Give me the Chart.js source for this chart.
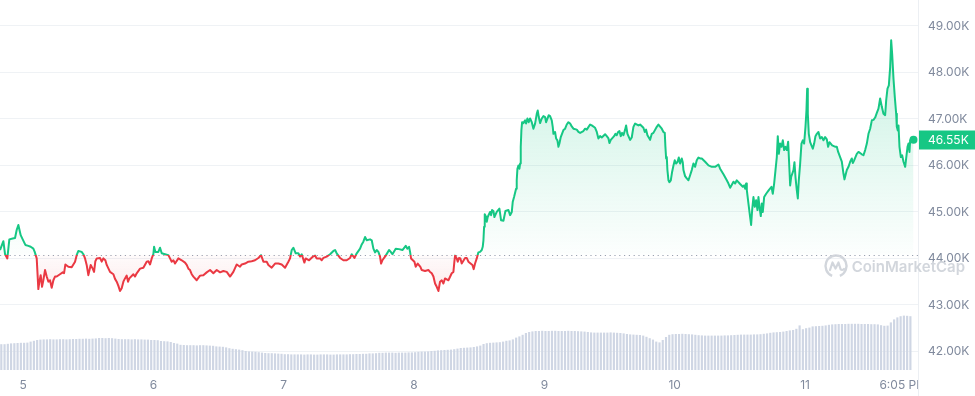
<!DOCTYPE html>
<html>
<head>
<meta charset="utf-8">
<script src="https://cdn.jsdelivr.net/npm/chart.js@4.4.1/dist/chart.umd.min.js"></script>
<style>
html,body{margin:0;padding:0;background:#fff;}
#wrap{width:975px;height:396px;position:relative;}
</style>
</head>
<body>
<div id="wrap"><canvas id="c"></canvas></div>
<script>
// ---- data (time in hours from Feb 5 00:00, price in thousands USD) ----
const dayTicks = [0, 24, 48, 72, 96, 120, 144, 162.08];
const dayLabels = ['5', '6', '7', '8', '9', '10', '11', '6:05 PM'];
const priceTicks = [42, 43, 44, 45, 46, 47, 48, 49];
const priceAxisMin = 41.6;
const priceAxisMax = 49.558;
const timeAxisMin = -4.24;
const timeAxisMax = 164.8;
const openPrice = 44.08;

const priceTimes = [
-4.24,-3.62,-3.31,-2.89,-2.52,-1.90,-1.47,-1.17,-0.86,-0.43,
-0.06,0.43,0.98,1.41,1.90,2.15,2.52,2.82,3.01,3.25,
3.50,3.74,4.05,4.36,4.67,4.97,5.28,5.59,5.89,6.20,
6.81,7.31,7.55,7.80,8.35,8.96,9.58,9.88,10.19,10.80,
11.11,11.42,11.72,12.03,12.46,12.83,13.08,13.32,13.57,14.18,
14.49,14.79,15.16,15.41,16.02,16.64,16.94,17.25,17.56,17.86,
18.17,18.48,18.78,19.09,19.34,19.58,20.32,20.63,20.93,21.55,
22.16,22.77,23.08,23.39,23.70,24.00,24.13,24.37,24.92,25.23,
25.54,26.15,26.76,27.07,27.38,27.69,27.99,28.61,29.22,29.83,
30.14,30.45,30.75,31.06,31.37,31.98,32.29,32.60,33.21,33.82,
34.44,35.05,35.67,36.28,36.89,37.51,38.12,38.73,39.35,39.96,
40.27,40.88,41.50,42.11,42.72,43.34,43.83,44.26,44.87,45.18,
45.79,46.41,47.02,47.63,48.25,48.86,49.17,49.48,49.78,50.21,
50.70,51.01,51.32,51.81,52.05,52.67,53.40,53.77,54.08,54.69,
55.00,55.31,55.92,56.54,57.15,57.46,57.76,58.38,58.99,59.60,
60.22,60.53,61.02,61.45,62.06,62.37,62.67,62.98,63.29,63.90,
64.21,64.52,64.82,65.13,65.44,65.74,65.93,66.17,66.79,67.40,
67.71,68.02,68.63,69.24,69.86,70.47,70.78,71.08,71.27,71.45,
72.07,72.31,72.68,73.17,73.42,74.03,74.64,74.95,75.26,75.57,
75.87,76.18,76.49,76.79,77.10,77.41,77.71,78.33,78.94,79.25,
79.43,79.56,79.86,80.05,80.29,80.54,80.78,81.40,81.70,82.01,
82.75,82.99,83.24,83.55,83.85,84.16,84.47,84.65,84.78,84.90,
85.02,85.27,85.39,85.57,86.00,86.19,86.37,86.62,86.80,87.23,
87.72,88.03,88.46,88.83,89.38,89.69,90.00,90.18,90.42,90.79,
90.91,91.04,91.22,91.41,91.53,91.65,91.77,91.90,92.14,92.45,
92.63,92.88,93.12,93.37,93.68,93.98,94.29,94.60,94.78,94.97,
95.21,95.52,95.83,96.13,96.32,96.81,97.05,97.36,97.54,97.67,
97.97,98.16,98.40,98.59,98.77,99.02,99.51,99.82,100.12,100.43,
100.74,101.04,101.35,101.96,102.27,102.58,103.19,103.50,103.81,104.42,
104.73,105.34,105.65,105.95,106.26,106.57,107.18,107.49,107.80,107.98,
108.23,108.84,109.09,109.33,109.58,109.82,110.07,110.31,110.56,110.87,
111.05,111.30,111.79,112.09,112.40,112.71,113.32,113.63,114.24,114.49,
114.73,114.98,115.47,115.78,116.08,116.70,117.00,117.62,117.92,118.17,
118.29,118.42,118.54,118.66,118.85,119.03,119.28,119.52,119.77,120.01,
120.26,120.50,120.75,120.99,121.30,121.48,121.61,121.91,122.22,122.53,
122.84,123.14,123.45,123.76,124.06,124.37,124.68,124.99,125.60,126.22,
126.83,127.44,128.06,128.36,128.98,129.59,129.90,130.21,130.82,131.13,
131.43,132.05,132.54,132.78,132.97,133.15,133.28,133.58,133.89,134.07,
134.26,134.50,134.75,134.99,135.24,135.42,135.61,135.85,136.04,136.22,
136.47,136.84,137.33,137.82,138.06,138.31,138.56,138.80,138.98,139.17,
139.41,139.66,139.91,140.15,140.40,140.64,140.89,141.13,141.26,141.44,
141.87,142.05,142.24,142.48,142.67,142.85,143.10,143.34,143.59,143.83,
144.08,144.26,144.39,144.51,144.69,144.94,145.18,145.43,145.68,145.92,
146.17,146.47,146.78,147.09,147.39,147.70,148.01,148.25,148.50,148.99,
149.60,149.85,150.10,150.46,150.77,151.08,151.26,151.45,151.69,152.00,
152.31,152.61,152.80,153.04,153.53,153.84,154.45,154.76,155.07,155.38,
155.68,155.99,156.30,156.60,156.91,157.22,157.52,157.83,158.14,158.44,
158.75,158.94,159.18,159.43,159.67,159.86,160.04,160.29,160.53,160.78,
160.90,161.08,161.21,161.39,161.64,161.88,162.13,162.44,162.62,162.87,
163.05,163.23,163.36,163.66,163.97
];

const prices = [
44.18,44.37,44.09,44.00,44.41,44.43,44.44,44.61,44.72,44.50,
44.41,44.29,44.27,44.25,44.21,44.14,44.00,43.34,43.50,43.64,
43.39,43.53,43.75,43.61,43.50,43.53,43.37,43.53,43.61,43.61,
43.66,43.70,43.68,43.87,43.82,43.81,43.93,44.07,44.16,44.14,
44.09,44.00,43.86,43.64,43.86,43.78,43.71,43.94,44.00,44.01,
43.93,44.00,43.96,43.86,43.71,43.66,43.56,43.50,43.41,43.30,
43.36,43.50,43.57,43.63,43.50,43.57,43.66,43.61,43.68,43.78,
43.80,43.93,43.94,43.87,44.00,44.09,44.25,44.14,44.14,44.23,
44.11,44.09,44.07,44.00,43.93,43.96,43.89,44.00,43.96,43.91,
43.86,43.78,43.75,43.66,43.61,43.53,43.58,43.63,43.64,43.70,
43.75,43.68,43.75,43.70,43.73,43.71,43.61,43.71,43.87,43.82,
43.87,43.89,43.93,43.94,43.96,44.01,44.07,43.93,43.93,43.86,
43.80,43.89,43.89,43.87,43.80,43.93,44.00,44.18,44.23,44.11,
44.11,44.04,44.09,43.91,44.00,43.96,44.04,44.06,44.00,44.00,
43.96,44.01,44.04,44.09,44.16,44.18,44.11,44.01,43.96,43.96,
44.01,44.09,44.01,44.11,44.21,44.30,44.36,44.46,44.39,44.41,
44.39,44.21,44.13,44.18,44.14,44.04,43.89,43.96,44.06,44.18,
44.14,44.09,44.21,44.20,44.18,44.27,44.21,44.25,44.14,44.00,
43.93,43.82,43.89,43.82,43.75,43.73,43.75,43.71,43.68,43.61,
43.46,43.39,43.30,43.50,43.53,43.46,43.57,43.53,43.68,43.71,
43.93,44.06,44.00,43.93,44.01,44.00,43.89,44.01,44.01,43.93,
43.86,43.77,43.89,44.00,44.13,44.14,44.18,44.25,44.39,44.68,
44.95,44.89,44.79,44.89,45.00,44.93,45.04,45.02,44.89,45.00,
45.07,44.82,44.81,45.02,45.04,44.93,45.00,45.22,45.32,45.50,
45.68,45.93,46.00,45.93,46.04,46.40,46.76,46.93,46.91,46.97,
46.90,47.01,46.93,47.01,46.93,46.79,46.90,47.11,47.18,47.04,
46.91,47.01,47.06,47.04,46.93,47.08,47.06,46.97,46.83,46.68,
46.72,46.58,46.54,46.40,46.47,46.61,46.76,46.79,46.88,46.93,
46.90,46.84,46.79,46.77,46.72,46.70,46.74,46.79,46.77,46.88,
46.86,46.81,46.72,46.58,46.63,46.60,46.67,46.63,46.58,46.48,
46.55,46.63,46.68,46.65,46.72,46.74,46.63,46.70,46.65,46.77,
46.86,46.68,46.55,46.60,46.83,46.90,46.86,46.88,46.81,46.72,
46.77,46.65,46.55,46.68,46.70,46.83,46.88,46.79,46.72,46.70,
46.40,46.15,46.18,45.90,45.68,45.64,45.68,45.86,46.00,46.11,
46.04,46.07,46.17,46.04,46.15,46.07,45.90,45.77,45.72,45.68,
45.79,45.90,46.04,45.97,46.11,46.17,46.15,46.15,46.08,46.00,
45.97,45.97,46.02,45.93,45.81,45.68,45.61,45.52,45.65,45.61,
45.68,45.60,45.54,45.57,45.50,45.61,45.47,45.18,44.89,44.72,
45.04,45.32,45.11,45.25,45.04,45.32,45.11,44.91,45.18,45.00,
45.32,45.39,45.47,45.54,45.39,45.61,45.90,46.18,46.63,46.25,
46.47,46.40,46.54,46.33,46.40,46.33,46.51,45.90,45.57,45.75,
45.90,46.07,45.75,45.47,45.29,45.68,46.04,46.47,46.54,46.47,
46.83,47.18,47.65,47.11,46.68,46.50,46.43,46.36,46.47,46.63,
46.68,46.72,46.58,46.61,46.54,46.61,46.56,46.40,46.50,46.43,
46.40,46.40,46.29,46.18,46.08,45.82,45.70,45.79,45.90,45.97,
46.08,46.15,46.05,46.11,46.25,46.29,46.24,46.22,46.33,46.47,
46.68,46.79,46.97,46.98,47.03,47.13,47.22,47.44,47.26,47.11,
47.08,47.40,47.65,47.72,48.11,48.69,48.40,47.86,47.47,47.11,
46.83,46.75,46.86,46.40,46.18,46.22,46.08,45.97,46.15,46.40,
46.47,46.29,46.54,46.58,46.55
];

// 24h volume bars (billions USD), sampled every volumeStep hours from volumeStart
const volumeStart = -4.0;
const volumeStep = 0.6;
const volumeAxisMax = 185;
const volumes = [
12.9,12.9,13.1,13.3,13.4,13.5,13.6,13.6,13.7,14.2,
14.6,15.0,15.2,15.3,15.3,15.4,15.3,15.3,15.4,15.4,
15.3,15.4,15.5,15.5,15.6,15.6,15.7,15.6,15.7,15.8,
16.0,16.0,15.9,16.0,15.9,15.7,15.5,15.4,15.4,15.4,
15.3,15.4,15.3,15.3,15.2,15.2,15.0,15.0,14.9,14.5,
14.4,14.3,14.0,13.5,13.2,12.6,12.5,12.4,12.4,12.4,
12.3,12.4,12.4,12.3,12.2,12.1,11.8,11.7,11.6,11.3,
10.9,10.6,10.4,10.2,9.9,9.5,9.3,9.2,9.1,8.9,
8.7,8.5,8.4,8.4,8.3,8.2,8.1,7.9,7.9,7.8,
7.8,7.8,7.8,7.7,7.8,7.8,7.7,7.7,7.8,7.8,
7.8,7.7,7.7,7.8,7.8,7.8,7.8,7.9,7.9,8.0,
8.0,8.1,8.1,8.3,8.3,8.4,8.6,8.6,8.7,8.7,
8.7,8.6,8.7,8.7,8.7,8.8,8.8,8.9,9.1,9.2,
9.2,9.3,9.5,9.6,9.8,9.9,10.0,10.1,10.2,10.4,
10.7,11.0,11.1,11.2,11.3,11.5,11.8,12.2,13.0,13.4,
13.6,13.7,13.8,13.9,14.2,14.6,14.8,15.3,16.2,16.8,
17.6,18.5,19.0,19.3,19.5,19.5,19.6,19.5,19.5,19.6,
19.6,19.5,19.5,19.5,19.6,19.5,19.5,19.4,19.3,19.2,
19.0,18.8,18.7,18.7,18.7,18.7,18.7,18.8,18.7,18.6,
18.5,18.3,18.0,17.8,17.7,17.6,17.5,17.2,16.6,15.9,
15.2,14.2,13.8,15.0,16.5,17.6,17.9,18.0,18.0,18.1,
18.0,17.9,17.8,17.6,17.4,17.3,17.2,17.2,17.2,17.2,
17.2,17.2,17.3,17.3,17.4,17.5,17.6,17.7,17.7,17.7,
17.7,17.8,17.8,17.9,18.1,18.3,18.6,18.8,18.9,19.0,
19.2,19.5,19.8,20.0,20.6,22.3,20.4,20.9,21.2,21.8,
21.9,22.0,22.1,22.3,22.6,22.8,22.9,23.0,23.0,23.0,
23.1,23.1,23.1,23.1,23.0,23.0,23.0,22.9,22.9,22.8,
22.4,22.1,22.2,23.8,25.3,26.3,26.9,27.2,27.1,26.9
];

// ---- styles ----
const GREEN = '#16c784';
const RED = '#ea3943';
const TEXT = '#808a9d';
const GRID = '#eff2f5';
const FONT = 'Inter, "Noto Sans", sans-serif';

const n = Math.min(priceTimes.length, prices.length);
const pricePoints = [];
for (let i = 0; i < n; i++) pricePoints.push({x: priceTimes[i], y: prices[i]});
const volumePoints = volumes.map((v, i) => ({x: volumeStart + i * volumeStep, y: v}));
const lastPrice = prices[n - 1];
const maxPrice = Math.max(...prices.slice(0, n));
const minPrice = Math.min(...prices.slice(0, n));

function frac(chart, v) {
  const a = chart.chartArea;
  const p = (chart.scales.y.getPixelForValue(v) - a.top) / (a.bottom - a.top);
  return Math.min(1, Math.max(0, p));
}

function strokeGradient(c) {
  const chart = c.chart;
  const a = chart.chartArea;
  if (!a) return GREEN;
  const g = chart.ctx.createLinearGradient(0, a.top, 0, a.bottom);
  const t = frac(chart, openPrice);
  g.addColorStop(0, GREEN); g.addColorStop(t, GREEN);
  g.addColorStop(t, RED); g.addColorStop(1, RED);
  return g;
}

function fillGradient(c) {
  const chart = c.chart;
  const a = chart.chartArea;
  if (!a) return 'rgba(22,199,132,0.1)';
  const g = chart.ctx.createLinearGradient(0, a.top, 0, a.bottom);
  const tTop = frac(chart, maxPrice);
  const tBase = frac(chart, openPrice);
  const tLow = frac(chart, minPrice);
  g.addColorStop(0, 'rgba(22,199,132,0.24)');
  g.addColorStop(tTop, 'rgba(22,199,132,0.24)');
  g.addColorStop(tBase, 'rgba(22,199,132,0.01)');
  g.addColorStop(Math.min(1, tBase + 0.0001), 'rgba(234,57,67,0.02)');
  g.addColorStop(Math.max(tLow, tBase + 0.0002), 'rgba(234,57,67,0.10)');
  g.addColorStop(1, 'rgba(234,57,67,0.10)');
  return g;
}

const baselinePlugin = {
  id: 'baseline',
  beforeDatasetsDraw(chart) {
    const {ctx, chartArea: a, scales} = chart;
    const y = Math.round(scales.y.getPixelForValue(openPrice)) + 0.5;
    ctx.save();
    ctx.strokeStyle = '#9aa2b0';
    ctx.lineWidth = 1;
    ctx.setLineDash([1.2, 3.6]);
    ctx.beginPath();
    ctx.moveTo(a.left, y);
    ctx.lineTo(a.right, y);
    ctx.stroke();
    ctx.restore();
  }
};

const overlayPlugin = {
  id: 'overlay',
  afterDraw(chart) {
    const {ctx, chartArea: a, scales, width, height} = chart;
    ctx.save();
    // clip x labels at the price-axis edge
    ctx.fillStyle = '#ffffff';
    ctx.fillRect(a.right + 1, a.bottom + 1, width - a.right, height - a.bottom);
    // separator
    ctx.strokeStyle = '#eceff3';
    ctx.lineWidth = 1;
    ctx.beginPath();
    ctx.moveTo(Math.round(a.right) + 0.5, 0);
    ctx.lineTo(Math.round(a.right) + 0.5, height);
    ctx.stroke();

    // watermark
    const wy = a.bottom - 104;
    ctx.globalAlpha = 0.9;
    ctx.strokeStyle = '#cdd1d8';
    ctx.fillStyle = '#cdd1d8';
    ctx.lineWidth = 2.4;
    const cx = width - 139, r = 10.5;
    ctx.beginPath();
    ctx.arc(cx, wy, r, Math.PI * 0.62, Math.PI * 0.38 + Math.PI * 2);
    ctx.stroke();
    ctx.lineWidth = 2.2;
    ctx.lineJoin = 'round';
    ctx.lineCap = 'round';
    ctx.beginPath();
    ctx.moveTo(cx - 6, wy + 4);
    ctx.lineTo(cx - 3.5, wy - 3.5);
    ctx.lineTo(cx - 0.5, wy + 2.5);
    ctx.lineTo(cx + 2.5, wy - 3.5);
    ctx.lineTo(cx + 4.5, wy + 3);
    ctx.quadraticCurveTo(cx + 6, wy + 5, cx + 8, wy + 3);
    ctx.stroke();
    ctx.font = '600 15px ' + FONT;
    ctx.textAlign = 'right';
    ctx.textBaseline = 'middle';
    ctx.fillText('CoinMarketCap', width - 10, wy + 1);
    ctx.globalAlpha = 1;

    // last price tag
    const py = scales.y.getPixelForValue(lastPrice);
    ctx.fillStyle = GREEN;
    ctx.fillRect(a.right + 1, Math.round(py) - 9.5, width - a.right - 1, 19);
    ctx.fillStyle = '#ffffff';
    ctx.font = '12px ' + FONT;
    ctx.textAlign = 'left';
    ctx.textBaseline = 'middle';
    ctx.fillText(lastPrice.toFixed(2) + 'K', a.right + 10, py + 0.5);
    ctx.restore();
  }
};

new Chart(document.getElementById('c'), {
  type: 'line',
  data: {
    datasets: [
      {
        type: 'line',
        data: pricePoints,
        yAxisID: 'y',
        borderColor: strokeGradient,
        backgroundColor: fillGradient,
        borderWidth: 2,
        fill: {target: {value: openPrice}},
        tension: 0,
        borderJoinStyle: 'round',
        pointRadius: (c) => c.dataIndex === n - 1 ? 4 : 0,
        pointBackgroundColor: GREEN,
        pointBorderWidth: 0,
        order: 0
      },
      {
        type: 'bar',
        data: volumePoints,
        yAxisID: 'yv',
        backgroundColor: '#cfd6e4',
        barPercentage: 0.66,
        categoryPercentage: 1,
        order: 1
      }
    ]
  },
  options: {
    responsive: true,
    maintainAspectRatio: false,
    animation: false,
    devicePixelRatio: 1,
    layout: {autoPadding: false, padding: {left: 0, right: 0, top: 0, bottom: 0}},
    plugins: {legend: {display: false}, tooltip: {enabled: false}},
    scales: {
      x: {
        type: 'linear',
        bounds: 'data',
        min: timeAxisMin,
        max: timeAxisMax,
        offset: false,
        grid: {display: false},
        border: {display: false},
        afterBuildTicks: (s) => {
          s.ticks = dayTicks.map(v => ({value: v}));
        },
        afterFit: (s) => { s.height = 26; s.paddingLeft = 0; s.paddingRight = 0; },
        ticks: {
          autoSkip: false,
          maxRotation: 0,
          padding: 0,
          color: TEXT,
          font: {family: FONT, size: 12},
          callback: (v, i) => dayLabels[i]
        }
      },
      y: {
        type: 'linear',
        position: 'right',
        bounds: 'data',
        min: priceAxisMin,
        max: priceAxisMax,
        grid: {color: GRID, drawTicks: false},
        border: {display: false},
        afterBuildTicks: (s) => {
          s.ticks = priceTicks.map(v => ({value: v}));
        },
        afterFit: (s) => { s.width = 57; s.paddingTop = 0; s.paddingBottom = 0; },
        ticks: {
          padding: 10,
          color: TEXT,
          font: {family: FONT, size: 12},
          callback: (v) => v.toFixed(2) + 'K'
        }
      },
      yv: {
        type: 'linear',
        display: false,
        min: 0,
        max: volumeAxisMax
      }
    }
  },
  plugins: [baselinePlugin, overlayPlugin]
});
</script>
</body>
</html>
